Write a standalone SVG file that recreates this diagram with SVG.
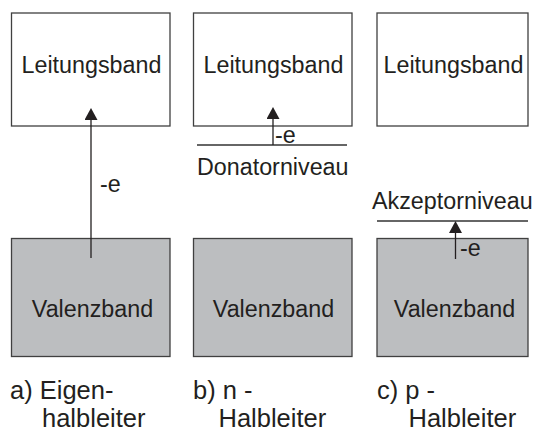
<svg xmlns="http://www.w3.org/2000/svg" width="536" height="433" viewBox="0 0 536 433">
<style>
  .cb { fill: #ffffff; stroke: #404040; stroke-width: 1.3; }
  .vb { fill: #bcbec0; stroke: #404040; stroke-width: 1.3; }
  .t { font-family: "Liberation Sans", Arial, sans-serif; font-size: 23.3px; fill: #231f20; }
  .tm { text-anchor: middle; }
  .lab { font-family: "Liberation Sans", Arial, sans-serif; font-size: 25.5px; fill: #231f20; }
  .ln { stroke: #333333; stroke-width: 1.3; fill: none; }
  .ar { stroke: #231f20; stroke-width: 1.3; fill: none; marker-end: url(#ah); }
</style>
<defs>
  <marker id="ah" markerUnits="userSpaceOnUse" markerWidth="12" markerHeight="13" viewBox="0 0 12 13" refX="0" refY="6.5" orient="auto">
    <path d="M0,0 L12,6.5 L0,13 z" fill="#231f20"/>
  </marker>
</defs>
<rect width="536" height="433" fill="#ffffff"/>

<g id="leitungsband-a">
  <rect class="cb" x="11.5" y="13" width="158.5" height="113"/>
  <text class="t tm" x="91.5" y="73">Leitungsband</text>
</g>
<g id="leitungsband-b">
  <rect class="cb" x="193.5" y="13" width="158.5" height="113"/>
  <text class="t tm" x="273.5" y="73">Leitungsband</text>
</g>
<g id="leitungsband-c">
  <rect class="cb" x="377" y="13" width="151" height="113"/>
  <text class="t tm" x="453.5" y="73">Leitungsband</text>
</g>

<g id="valenzband-a">
  <rect class="vb" x="11.5" y="238.5" width="158.5" height="118"/>
  <text class="t tm" x="92.5" y="317">Valenzband</text>
</g>
<g id="valenzband-b">
  <rect class="vb" x="193.5" y="238.5" width="158.5" height="118"/>
  <text class="t tm" x="273.5" y="317">Valenzband</text>
</g>
<g id="valenzband-c">
  <rect class="vb" x="377" y="238.5" width="151" height="118"/>
  <text class="t tm" x="454.5" y="317">Valenzband</text>
</g>

<g id="donatorniveau">
  <line class="ln" x1="197" y1="145" x2="347" y2="145"/>
  <text class="t" x="197" y="175">Donatorniveau</text>
</g>
<g id="akzeptorniveau">
  <line class="ln" x1="377" y1="221" x2="528" y2="221"/>
  <text class="t" x="372" y="209">Akzeptorniveau</text>
</g>

<g id="connectors">
  <line class="ar" x1="91" y1="258" x2="91" y2="120"/>
  <line class="ar" x1="273" y1="145" x2="273" y2="119"/>
  <line class="ar" x1="455.5" y1="259" x2="455.5" y2="233"/>
  <text class="t" x="100" y="192">-e</text>
  <text class="t" x="275" y="143">-e</text>
  <text class="t" x="460" y="256">-e</text>
</g>

<g id="caption-a">
  <text class="lab" x="10" y="399">a) Eigen-</text>
  <text class="lab" x="42" y="427">halbleiter</text>
</g>
<g id="caption-b">
  <text class="lab" x="193" y="399">b) n -</text>
  <text class="lab" x="218.5" y="427">Halbleiter</text>
</g>
<g id="caption-c">
  <text class="lab" x="377" y="399">c) p -</text>
  <text class="lab" x="408.5" y="427">Halbleiter</text>
</g>
</svg>
